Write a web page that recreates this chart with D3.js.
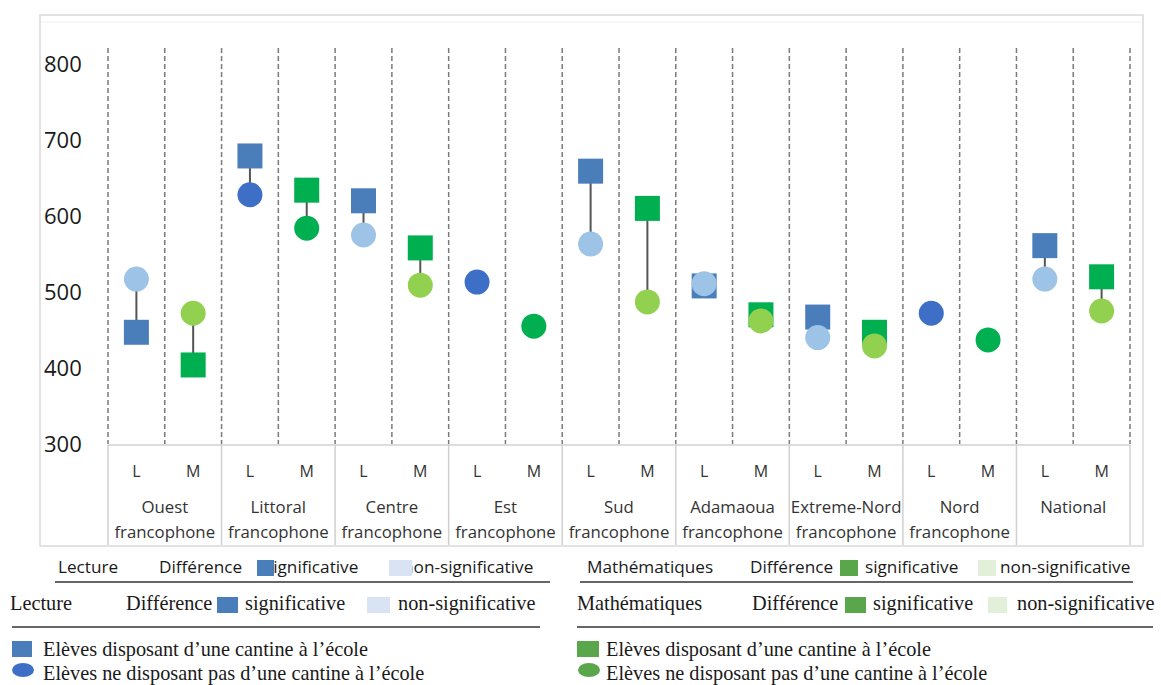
<!DOCTYPE html>
<html><head><meta charset="utf-8">
<script src="https://cdn.jsdelivr.net/npm/d3@7"></script>
<style>body{margin:0;background:#fff}svg{display:block}</style>
</head><body>
<svg id="c" width="1161" height="685"></svg>
<script>
const groups = [["Ouest","francophone"],["Littoral","francophone"],["Centre","francophone"],["Est","francophone"],["Sud","francophone"],["Adamaoua","francophone"],["Extreme-Nord","francophone"],["Nord","francophone"],["National"]];
const subjects = ["L","M"];
const yTicks = [300,400,500,600,700,800];
// students with canteen (squares), order: group x subject
const withCanteen = [447,404, 679,634, 620,558, null,null, 659,610, 508,470, 467,447, null,null, 561,520];
// students without canteen (circles)
const withoutCanteen = [517,472, 628,584, 575,509, 513,455, 563,487, 511,462, 440,429, 472,437, 517,475];
// difference significant?
const significant = [false,false, true,true, false,false, true,true, false,false, false,false, false,false, true,true, false,false];

const svg = d3.select("#c");
const keys = [];
groups.forEach((g,i)=>subjects.forEach(s=>keys.push(i+"-"+s)));
const x = d3.scaleBand().domain(keys).range([108,1130]).padding(0);
const y = d3.scaleLinear().domain([300,800]).range([444,64]);

const sqCol = {L:"#4a7ebb", M:"#00b050"};
const circDark = {L:"#3d6fc6", M:"#00b050"};
const circLight = {L:"#9dc3e6", M:"#92d050"};

// frame
svg.append("rect").attr("x",40).attr("y",15).attr("width",1103).attr("height",531).attr("fill","none").attr("stroke","#d9d9d9").attr("stroke-width",1.5);
svg.append("line").attr("x1",41).attr("x2",1142).attr("y1",22).attr("y2",22).attr("stroke","#f0f0f0");

// dashed gridlines
const bounds = keys.map(k=>x(k)).concat([x.range()[1]]);
svg.selectAll("line.grid").data(bounds).join("line").attr("class","grid")
  .attr("x1",d=>d).attr("x2",d=>d).attr("y1",48).attr("y2",444)
  .attr("stroke","#7a7a7a").attr("stroke-width",1.5).attr("stroke-dasharray","5,3");

// y labels
svg.selectAll("text.yt").data(yTicks).join("text").attr("class","yt")
  .attr("x",44).attr("y",d=>y(d)).attr("dy","0.36em")
  .attr("font-family","'Open Sans', sans-serif").attr("font-size",22).attr("fill","#1a1a1a")
  .text(d=>d);

// category axis box
svg.append("line").attr("x1",108).attr("x2",1130).attr("y1",445).attr("y2",445).attr("stroke","#d0d0d0").attr("stroke-width",1.5);
const gb = groups.map((g,i)=>x(i+"-L")).concat([x.range()[1]]);
svg.selectAll("line.gsep").data(gb).join("line").attr("class","gsep")
  .attr("x1",d=>d).attr("x2",d=>d).attr("y1",445).attr("y2",545).attr("stroke","#d0d0d0").attr("stroke-width",1.5);
svg.selectAll("text.sub").data(keys).join("text").attr("class","sub")
  .attr("x",d=>x(d)+x.bandwidth()/2).attr("y",477).attr("text-anchor","middle")
  .attr("font-family","'Open Sans', sans-serif").attr("font-size",16).attr("fill","#333")
  .text(d=>d.split("-")[1]);
groups.forEach((g,i)=>{
  const cx = x(i+"-L")+x.bandwidth();
  g.forEach((line,j)=>{
    svg.append("text").attr("x",cx).attr("y",513+j*25).attr("text-anchor","middle")
      .attr("font-family","'Open Sans', sans-serif").attr("font-size",16.8).attr("fill","#333").text(line);
  });
});

// marks
const data = keys.map((k,i)=>({k, s:k.split("-")[1], a:withCanteen[i], b:withoutCanteen[i], sig:significant[i]}));
const cx = d=>x(d.k)+x.bandwidth()/2;
svg.selectAll("line.conn").data(data.filter(d=>d.a!=null&&d.b!=null)).join("line").attr("class","conn")
  .attr("x1",cx).attr("x2",cx).attr("y1",d=>y(d.a)).attr("y2",d=>y(d.b)).attr("stroke","#555").attr("stroke-width",2);
const S=25;
svg.selectAll("rect.sq").data(data.filter(d=>d.a!=null)).join("rect").attr("class","sq")
  .attr("x",d=>cx(d)-S/2).attr("y",d=>y(d.a)-S/2).attr("width",S).attr("height",S)
  .attr("fill",d=>sqCol[d.s]);
svg.selectAll("circle.ci").data(data).join("circle").attr("class","ci")
  .attr("cx",cx).attr("cy",d=>y(d.b)).attr("r",12.5)
  .attr("fill",d=>d.sig?circDark[d.s]:circLight[d.s]);

// legends
const sans="'Open Sans', sans-serif", serif="'Liberation Serif', serif";
const F1=17.2, F2=20.3;
function txt(x0,y0,t,f,fs){svg.append("text").attr("x",x0).attr("y",y0).attr("font-family",f).attr("font-size",fs).attr("fill","#1a1a1a").text(t);}
function box(x0,y0,w,h,c){svg.append("rect").attr("x",x0).attr("y",y0).attr("width",w).attr("height",h).attr("fill",c);}
function hl(x1,x2,y0){svg.append("line").attr("x1",x1).attr("x2",x2).attr("y1",y0).attr("y2",y0).attr("stroke","#333").attr("stroke-width",1.5);}
// row 1 (sans)
txt(58,573,"Lecture",sans,F1); txt(159,573,"Différence",sans,F1);
txt(265,573,"significative",sans,F1); box(257,560,17,16,"#4a7ebb");
txt(403,573,"non-significative",sans,F1); box(389,560,23,16,"#dae3f3");
hl(55,550,582);
txt(587,573,"Mathématiques",sans,F1); txt(750,573,"Différence",sans,F1);
box(840,560,18,16,"#5aa64a"); txt(865,573,"significative",sans,F1);
box(978,560,18,16,"#e2f0d9"); txt(1000,573,"non-significative",sans,F1);
hl(580,1133,582);
// row 2 (serif)
txt(10,610,"Lecture",serif,F2); txt(126,610,"Différence",serif,F2);
box(217,597,21,16,"#4a7ebb"); txt(245,610,"significative",serif,F2);
box(367,597,23,16,"#dae3f3"); txt(398,610,"non-significative",serif,F2);
hl(12,540,627);
txt(577,610,"Mathématiques",serif,F2); txt(752,610,"Différence",serif,F2);
box(845,597,21,16,"#5aa64a"); txt(873,610,"significative",serif,F2);
box(988,597,19,16,"#e2f0d9"); txt(1017,610,"non-significative",serif,F2);
hl(577,1153,627);
// rows 3-4
box(12,641,20,16,"#4a7ebb"); txt(43,656,"Elèves disposant d’une cantine à l’école",serif,F2);
svg.append("ellipse").attr("cx",23).attr("cy",670).attr("rx",11).attr("ry",7).attr("fill","#3d6fc6");
txt(43,680,"Elèves ne disposant pas d’une cantine à l’école",serif,F2);
box(577,641,22,16,"#5aa64a"); txt(606,656,"Elèves disposant d’une cantine à l’école",serif,F2);
svg.append("ellipse").attr("cx",589).attr("cy",670).attr("rx",11).attr("ry",7).attr("fill","#5aa64a");
txt(606,680,"Elèves ne disposant pas d’une cantine à l’école",serif,F2);
</script>
</body></html>
